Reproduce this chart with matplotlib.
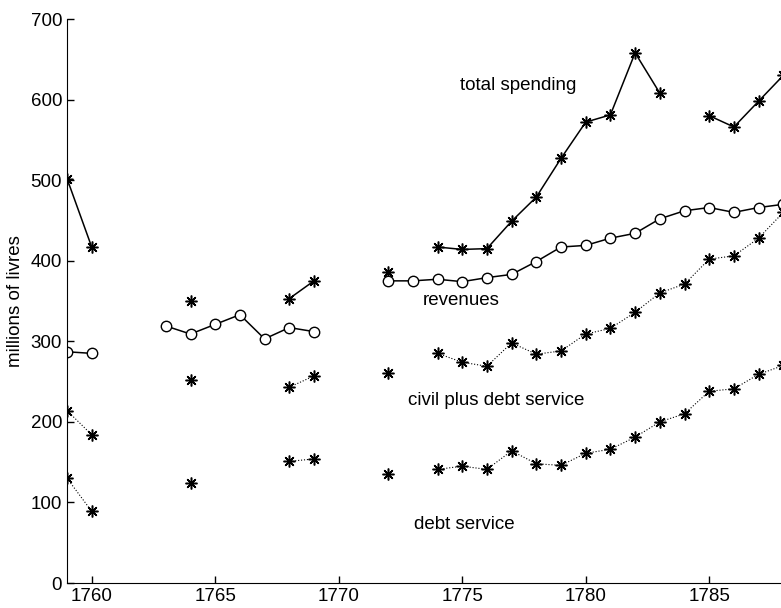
import numpy as np
import matplotlib.pyplot as plt

plt.rcParams['font.family'] = ['Liberation Sans', 'DejaVu Sans']

# --- date (milioane de livre), NaN = an lipsa ---
ani = np.arange(1759, 1789)

nan = np.nan
total_spending = [502, 417, nan, nan, nan, 350, nan, nan, nan, 353, 375, nan, nan,
                  386, nan, 417, 414, 415, 449, 479, 527, 572, 581, 658, 608,
                  nan, 580, 566, 598, 630]
revenues = [287, 285, nan, nan, 319, 309, 321, 333, 303, 317, 312, nan, nan,
            375, 375, 377, 374, 379, 383, 399, 417, 419, 428, 434, 452,
            462, 466, 460, 466, 470]
civil_plus_debt = [214, 184, nan, nan, nan, 252, nan, nan, nan, 243, 257, nan, nan,
                   261, nan, 285, 274, 269, 298, 284, 288, 309, 316, 336, 360,
                   371, 402, 406, 428, 460]
debt_service = [130, 89, nan, nan, nan, 124, nan, nan, nan, 151, 154, nan, nan,
                135, nan, 141, 145, 141, 164, 148, 146, 161, 166, 181, 200,
                210, 238, 241, 259, 270]

etichete = ['total spending', 'revenues', 'civil plus debt service', 'debt service']
poz_etichete = [(1774.9, 618), (1773.4, 351), (1772.8, 226), (1773.05, 73)]

# --- figura ---
fig = plt.figure(figsize=(7.81, 6.08), dpi=100)
ax = fig.add_axes([67 / 781, 25 / 608, 1 - 67 / 781, 564 / 608])

asterisc = (8, 2, 0)
ax.plot(ani, total_spending, '-', color='black', lw=1.1,
        marker=asterisc, ms=8.5, mew=1.1)
ax.plot(ani, revenues, '-', color='black', lw=1.1,
        marker='o', ms=7.5, mfc='white', mew=1.0)
ax.plot(ani, civil_plus_debt, ':', color='black', lw=0.8,
        marker=asterisc, ms=8.5, mew=1.1)
ax.plot(ani, debt_service, ':', color='black', lw=0.8,
        marker=asterisc, ms=8.5, mew=1.1)

for txt, (x, y) in zip(etichete, poz_etichete):
    ax.text(x, y, txt, fontsize=13.5, va='center', ha='left')

ax.set_xlim(1759, 1759 + 714 / 24.7)
ax.set_ylim(0, 700)
ax.set_xticks([1760, 1765, 1770, 1775, 1780, 1785])
ax.set_yticks(range(0, 701, 100))
ax.tick_params(direction='in', length=5, labelsize=13.5, width=1)
ax.set_ylabel('millions of livres', fontsize=13.5)
ax.yaxis.set_label_coords(-0.060, 0.5)

for s in ['top', 'right']:
    ax.spines[s].set_visible(False)

plt.savefig('out.png', dpi=100)
